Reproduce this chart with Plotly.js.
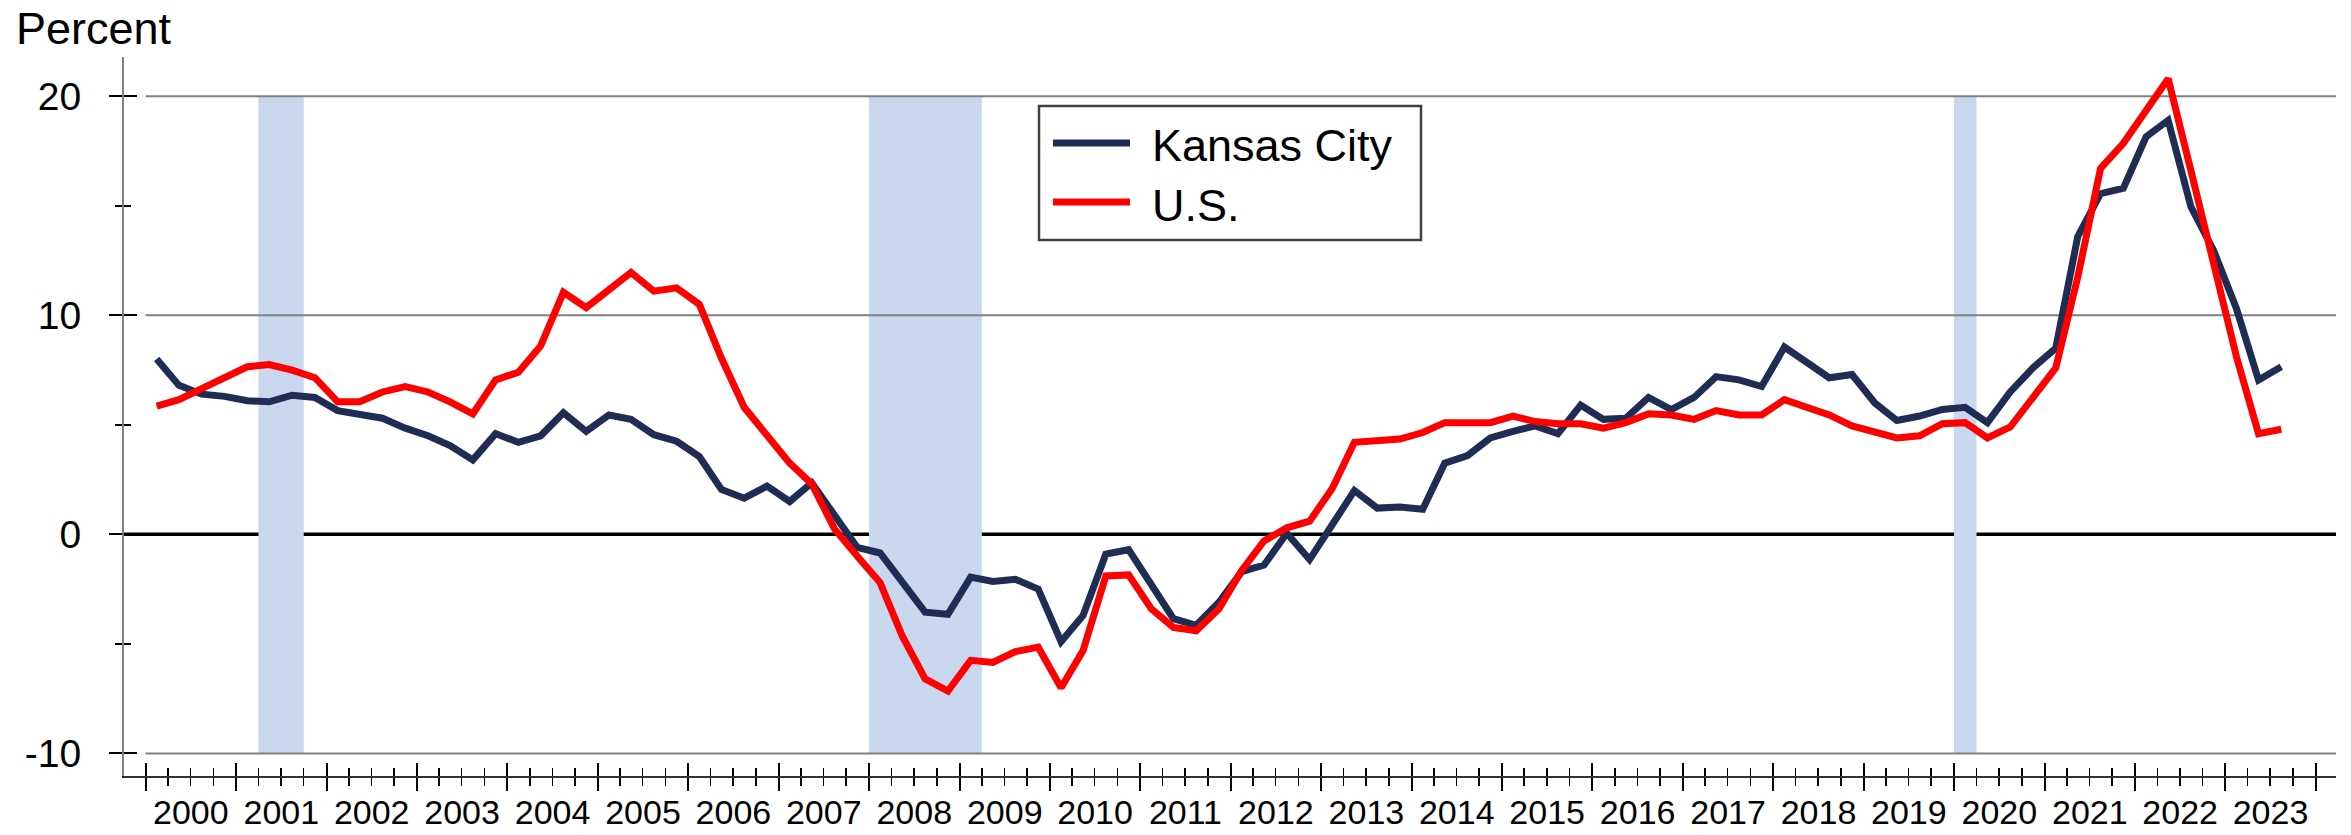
<!DOCTYPE html>
<html>
<head>
<meta charset="utf-8">
<script src="https://cdn.plot.ly/plotly-3.0.1.min.js"></script>
<style>html,body{margin:0;padding:0;background:#fff;}#chart{width:2351px;height:835px;}</style>
</head>
<body>
<div id="chart"></div>
<script>
// Quarterly data, 2000Q1 .. 2023Q3 (percent change from year ago)
const startYear = 2000;
const kansasCity = [
  8.0, 6.8, 6.4, 6.3,   6.1, 6.05, 6.35, 6.25,   5.65, 5.45, 5.3, 4.85,   4.5, 4.05, 3.4, 4.6,
  4.2, 4.5, 5.55, 4.7,  5.45, 5.25, 4.55, 4.25,  3.55, 2.05, 1.65, 2.2,   1.5, 2.35, 0.85, -0.6,
  -0.85, -2.2, -3.55, -3.65,  -1.95, -2.15, -2.05, -2.5,  -4.9, -3.7, -0.9, -0.7,  -2.35, -3.85, -4.15, -3.1,
  -1.7, -1.4, 0.05, -1.15,  0.45, 2.0, 1.2, 1.25,  1.15, 3.25, 3.6, 4.4,  4.7, 4.95, 4.6, 5.9,
  5.25, 5.3, 6.25, 5.7,  6.25, 7.2, 7.05, 6.75,  8.55, 7.9, 7.15, 7.3,  6.0, 5.2, 5.4, 5.7,
  5.8, 5.1, 6.5, 7.6,  8.5, 13.6, 15.55, 15.8,  18.15, 18.9, 14.95, 12.95,  10.3, 7.05, 7.65
];
const unitedStates = [
  5.85, 6.15, 6.65, 7.15,  7.65, 7.75, 7.5, 7.15,  6.05, 6.05, 6.5, 6.75,  6.5, 6.05, 5.5, 7.05,
  7.4, 8.6, 11.05, 10.35,  11.15, 11.95, 11.1, 11.25,  10.5, 8.05, 5.8, 4.5,  3.25, 2.3, 0.25, -1.0,
  -2.2, -4.65, -6.6, -7.15,  -5.75, -5.85, -5.35, -5.15,  -7.0, -5.3, -1.9, -1.85,  -3.4, -4.25, -4.4, -3.4,
  -1.65, -0.3, 0.3, 0.6,  2.1, 4.2, 4.3, 4.35,  4.65, 5.1, 5.1, 5.1,  5.4, 5.15, 5.05, 5.05,
  4.85, 5.1, 5.5, 5.45,  5.25, 5.65, 5.45, 5.45,  6.15, 5.8, 5.45, 4.95,  4.65, 4.4, 4.5, 5.05,
  5.1, 4.4, 4.9, 6.25,  7.6, 11.75, 16.7, 17.85,  19.35, 20.8, 16.6, 12.2,  8.1, 4.6, 4.8
];
const recessions = [
  ["2001-04-01", "2001-10-01"],
  ["2008-01-01", "2009-04-01"],
  ["2020-01-01", "2020-04-01"]
];
const seriesNames = ["Kansas City", "U.S."];
const yTickVals = [-10, 0, 10, 20];
const yAxisTitle = "Percent";

// quarter mid-point dates
function pad(n){ return (n < 10 ? "0" : "") + n; }
const quarters = kansasCity.map((_, i) => {
  const y = startYear + Math.floor(i / 4), q = i % 4;
  return y + "-" + pad(q * 3 + 2) + "-15";
});

// pixel geometry helpers (layout only)
const W = 2351, H = 835;
const L = 124, R = 2336, T = 57, B = 776;
const px = x => (x - L) / (R - L);
const py = y => (B - y) / (B - T);

const FONT = "Liberation Sans, Arial, Helvetica, sans-serif";
const NAVY = "#1F2D54", RED = "#FF0000";
const xRange = ["1999-10-06", "2024-03-23"];
const yRange = [-11.03, 21.79];

const traces = [
  {x: quarters, y: kansasCity, name: seriesNames[0], type: "scatter", mode: "lines",
   line: {color: NAVY, width: 7}, showlegend: false, hoverinfo: "skip"},
  {x: quarters, y: unitedStates, name: seriesNames[1], type: "scatter", mode: "lines",
   line: {color: RED, width: 7}, showlegend: false, hoverinfo: "skip"}
];

const shapes = [];
recessions.forEach(r => shapes.push({type: "rect", xref: "x", yref: "y", x0: r[0], x1: r[1], y0: -10, y1: 20,
  fillcolor: "#C9D7EF", line: {width: 0}, layer: "below"}));
[20, 10, -10].forEach(v => shapes.push({type: "line", xref: "x", yref: "y", x0: "2000-01-01", x1: xRange[1], y0: v, y1: v,
  line: {color: "#808080", width: 2}, layer: "below"}));
shapes.push({type: "line", xref: "paper", yref: "y", x0: 0, x1: 1, y0: 0, y1: 0,
  line: {color: "#000000", width: 3.5}, layer: "below"});
// legend box + keys
shapes.push({type: "rect", xref: "paper", yref: "paper", x0: px(1039), x1: px(1421), y0: py(240), y1: py(106),
  fillcolor: "#FFFFFF", line: {color: "#404040", width: 2.5}});
shapes.push({type: "line", xref: "paper", yref: "paper", x0: px(1053), x1: px(1130), y0: py(143), y1: py(143),
  line: {color: NAVY, width: 7}});
shapes.push({type: "line", xref: "paper", yref: "paper", x0: px(1053), x1: px(1130), y0: py(202), y1: py(202),
  line: {color: RED, width: 7}});

const annotations = [
  {text: yAxisTitle, xref: "paper", yref: "paper", x: px(14), y: py(28), xanchor: "left", yanchor: "middle",
   showarrow: false, font: {family: FONT, size: 45, color: "#000"}},
  {text: seriesNames[0], xref: "paper", yref: "paper", x: px(1150), y: py(145), xanchor: "left", yanchor: "middle",
   showarrow: false, font: {family: FONT, size: 45, color: "#000"}},
  {text: seriesNames[1], xref: "paper", yref: "paper", x: px(1150), y: py(205), xanchor: "left", yanchor: "middle",
   showarrow: false, font: {family: FONT, size: 45, color: "#000"}}
];

const xCommon = {
  type: "date", range: xRange, tick0: "2000-01-01", dtick: "M12",
  showgrid: false, zeroline: false, fixedrange: true
};

const layout = {
  width: W, height: H,
  margin: {l: L, r: W - R, t: T, b: H - B, pad: 0},
  paper_bgcolor: "#FFFFFF", plot_bgcolor: "#FFFFFF",
  showlegend: false,
  font: {family: FONT, color: "#000"},
  xaxis: Object.assign({}, xCommon, {
    ticks: "outside", ticklen: 13, tickwidth: 2, tickcolor: "#000",
    ticklabelmode: "period", tickformat: "%Y", ticklabelstandoff: -8,
    tickfont: {family: FONT, size: 34, color: "#000"},
    showline: true, linecolor: "#303030", linewidth: 2,
    minor: {dtick: "M3", ticks: "outside", ticklen: 8, tickwidth: 1.5, tickcolor: "#000", showgrid: false}
  }),
  xaxis2: Object.assign({}, xCommon, {
    overlaying: "x", anchor: "y", side: "bottom", matches: "x",
    ticks: "inside", ticklen: 13, tickwidth: 2, tickcolor: "#000", showticklabels: false,
    showline: false,
    minor: {dtick: "M3", ticks: "inside", ticklen: 8, tickwidth: 1.5, tickcolor: "#000", showgrid: false}
  }),
  yaxis: {
    range: yRange, tickmode: "array", tickvals: yTickVals, ticktext: yTickVals.map(String),
    ticks: "outside", ticklen: 13, tickwidth: 2, tickcolor: "#000", ticklabelstandoff: 20,
    tickfont: {family: FONT, size: 39, color: "#000"},
    showgrid: false, zeroline: false, showline: true, linecolor: "#808080", linewidth: 2,
    minor: {tickmode: "linear", tick0: 5, dtick: 10, ticks: "outside", ticklen: 7, tickwidth: 1.5, tickcolor: "#000", showgrid: false},
    fixedrange: true
  },
  yaxis2: {
    range: yRange, overlaying: "y", anchor: "x", side: "left", matches: "y",
    tickmode: "array", tickvals: yTickVals, ticks: "inside", ticklen: 13, tickwidth: 2, tickcolor: "#000",
    showticklabels: false, showgrid: false, zeroline: false, showline: false,
    minor: {tickmode: "linear", tick0: 5, dtick: 10, ticks: "inside", ticklen: 7, tickwidth: 1.5, tickcolor: "#000", showgrid: false},
    fixedrange: true
  },
  shapes: shapes,
  annotations: annotations
};

// invisible helper trace so the overlay axes render
traces.unshift({x: [xRange[0]], y: [0], xaxis: "x2", yaxis: "y2", type: "scatter", mode: "markers",
  marker: {opacity: 0}, showlegend: false, hoverinfo: "skip"});

Plotly.newPlot("chart", traces, layout, {staticPlot: true, displayModeBar: false});
</script>
</body>
</html>
